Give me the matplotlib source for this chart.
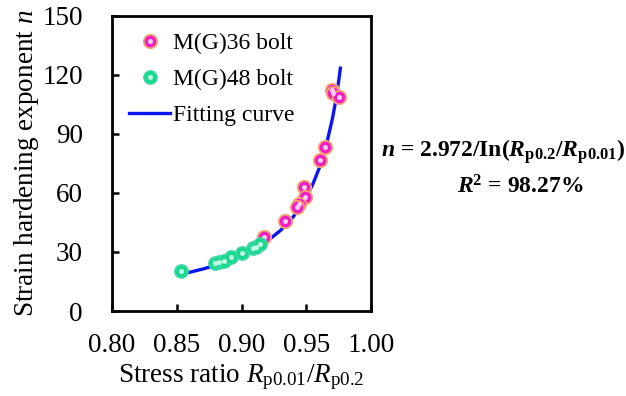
import matplotlib
matplotlib.use("Agg")
import matplotlib.pyplot as plt

plt.rcParams['font.family'] = ['Liberation Serif', 'DejaVu Serif']
plt.rcParams['mathtext.fontset'] = 'custom'
plt.rcParams['mathtext.rm'] = 'Liberation Serif'
plt.rcParams['mathtext.it'] = 'Liberation Serif:italic'
plt.rcParams['mathtext.bf'] = 'Liberation Serif:bold'
plt.rcParams['mathtext.cal'] = 'Liberation Serif:bold:italic'

# M(G)36 bolt
m36_x = [0.9697, 0.9705, 0.9751, 0.9646, 0.9602, 0.9485, 0.9492, 0.9443, 0.9431, 0.9336, 0.9174]
m36_n = [112.4, 110.7, 109.0, 83.5, 76.8, 63.2, 58.1, 54.4, 52.7, 45.9, 37.5]
# M(G)48 bolt
m48_x = [0.8533, 0.8795, 0.8828, 0.8864, 0.8915, 0.9000, 0.9085, 0.9110, 0.9140]
m48_n = [20.5, 24.2, 24.8, 25.6, 27.3, 29.3, 31.9, 32.7, 34.1]
# Fitting curve
fit_x = [0.853, 0.86, 0.87, 0.88, 0.89, 0.90, 0.91, 0.92, 0.93, 0.94, 0.945,
         0.95, 0.955, 0.96, 0.965, 0.97, 0.972, 0.975, 0.9762]
fit_n = [18.69, 19.71, 21.34, 23.25, 25.50, 28.21, 31.51, 35.64, 40.95, 48.03, 52.54,
         57.94, 64.55, 72.8, 83.42, 97.57, 104.65, 117.39, 123.4]

xticks = [0.80, 0.85, 0.90, 0.95, 1.00]
yticks = [0, 30, 60, 90, 120, 150]

FS = 19.5

fig = plt.figure(figsize=(6.26, 3.96), dpi=100)
ax = fig.add_axes([0.179, 0.2146, 0.414, 0.7454])

line, = ax.plot(fit_x, fit_n, color='#0a14f0', lw=2.4, zorder=2)

ms_out, ms_in = 9.6, 3.6
p_out, = ax.plot(m36_x, m36_n, 'o', ls='none', ms=ms_out, mfc='#f21cc8', mec='#f7a070', mew=1.3, zorder=3)
p_in, = ax.plot(m36_x, m36_n, 'o', ls='none', ms=ms_in, mfc='#ffd0f2', mec='none', zorder=4)
g_out, = ax.plot(m48_x, m48_n, 'o', ls='none', ms=ms_out, mfc='#19d890', mec='#40d8a4', mew=1.0, zorder=5)
g_in, = ax.plot(m48_x, m48_n, 'o', ls='none', ms=ms_in, mfc='#c0ffe4', mec='none', zorder=6)

ax.set_xlim(0.80, 1.00)
ax.set_ylim(0, 150)
ax.set_xticks(xticks)
ax.set_xticklabels([f"{v:.2f}" for v in xticks])
ax.set_yticks(yticks)
ax.set_yticklabels([str(v) for v in yticks])
ax.tick_params(direction='in', length=5, width=1.8, labelsize=FS)
ax.tick_params(axis='x', pad=16)
ax.tick_params(axis='y', pad=21)
for s in ax.spines.values():
    s.set_linewidth(2.0)

ax.set_xlabel(r"Stress ratio $R_{\mathrm{p0.01}}/R_{\mathrm{p0.2}}$", fontsize=FS, labelpad=3)
ax.set_ylabel(r"Strain hardening exponent $n$", fontsize=FS, labelpad=1)

leg = ax.legend([(p_out, p_in), (g_out, g_in), line],
                ["M(G)36 bolt", "M(G)48 bolt", "Fitting curve"],
                loc='upper left', frameon=False, fontsize=17, handlelength=1.75,
                handletextpad=0.1, labelspacing=0.62, borderaxespad=0, borderpad=0,
                bbox_to_anchor=(0.206, 0.918), bbox_transform=fig.transFigure)

fig.text(0.804, 0.616,
         r"$\mathcal{n}$ = 2.972/In($\mathcal{R}_{\mathbf{p0.2}}$/$\mathcal{R}_{\mathbf{p0.01}}$)",
         fontsize=17, fontweight='bold', ha='center', va='center')
fig.text(0.831, 0.528, r"$\mathcal{R}^{\mathbf{2}}$ = 98.27%",
         fontsize=17, fontweight='bold', ha='center', va='center')

fig.savefig("out.png", dpi=100)
